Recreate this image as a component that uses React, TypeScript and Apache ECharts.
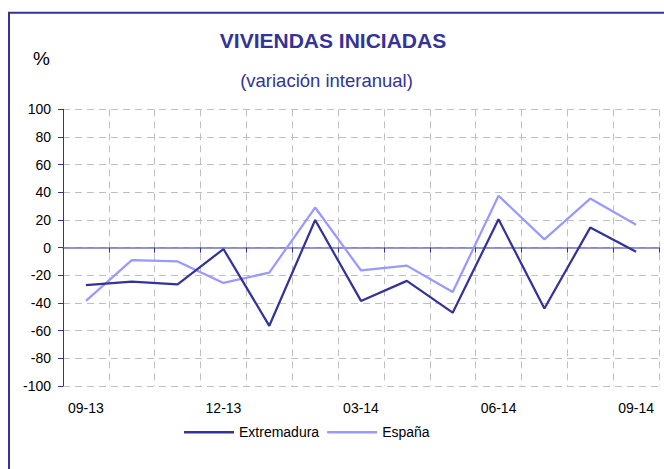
import React, { useEffect, useRef } from "react";
import * as echarts from "echarts";

const categories = [
  "09-13", "10-13", "11-13", "12-13", "01-14", "02-14", "03-14",
  "04-14", "05-14", "06-14", "07-14", "08-14", "09-14",
];
const extremadura = [-27, -24.5, -26.5, -1, -56.5, 20, -38.5, -24, -47, 20.5, -44, 14.5, -3];
const espana = [-38.5, -9, -10, -25.5, -18, 29, -16.5, -13, -32, 37.5, 6, 35.5, 16.5];
const seriesNames = ["Extremadura", "España"];
const titleText = "VIVIENDAS INICIADAS";
const subtitleText = "(variación interanual)";
const unitText = "%";

const FONT = "Liberation Sans, Arial, sans-serif";
const GRID_COLOR = "#c0c0c0";

export default function App() {
  const ref = useRef<HTMLDivElement>(null);
  useEffect(() => {
    if (!ref.current) return;
    const chart = echarts.init(ref.current, null, { renderer: "svg" });
    chart.setOption({
      animation: false,
      backgroundColor: "#ffffff",
      textStyle: { fontFamily: FONT },
      graphic: [
        {
          type: "rect",
          shape: { x: 9, y: 12.7, width: 720, height: 520 },
          style: { fill: "none", stroke: "#333399", lineWidth: 2 },
          silent: true,
        },
        {
          type: "text",
          x: 333,
          y: 40.5,
          style: {
            text: titleText,
            fontFamily: FONT,
            fontSize: 21,
            fontWeight: "bold",
            fill: "#333399",
            textAlign: "center",
            textVerticalAlign: "middle",
          },
        },
        {
          type: "text",
          x: 326.5,
          y: 80,
          style: {
            text: subtitleText,
            fontFamily: FONT,
            fontSize: 18.5,
            fill: "#333399",
            textAlign: "center",
            textVerticalAlign: "middle",
          },
        },
        {
          type: "text",
          x: 41.5,
          y: 58.5,
          style: {
            text: unitText,
            fontFamily: FONT,
            fontSize: 19,
            fill: "#000000",
            textAlign: "center",
            textVerticalAlign: "middle",
          },
        },
      ],
      grid: { left: 63, right: 5, top: 109.3, bottom: 83, containLabel: false },
      legend: {
        left: 184,
        top: 425.3,
        padding: 0,
        icon: "rect",
        itemWidth: 50,
        itemHeight: 2.5,
        itemGap: 8,
        textStyle: { fontFamily: FONT, fontSize: 14, color: "#000000" },
        data: seriesNames,
      },
      xAxis: [
        {
          type: "category",
          data: categories,
          boundaryGap: true,
          position: "bottom",
          axisLine: { show: false, onZero: false },
          axisTick: { show: false },
          axisLabel: {
            interval: 2,
            margin: 15,
            fontSize: 14,
            fontFamily: FONT,
            color: "#000000",
          },
          splitLine: {
            show: true,
            interval: 0,
            lineStyle: { color: GRID_COLOR, type: [7, 5], width: 1 },
          },
        },
        {
          type: "category",
          data: categories,
          boundaryGap: true,
          position: "bottom",
          axisLine: {
            show: true,
            onZero: true,
            lineStyle: { color: "#7373c9", width: 1.5 },
          },
          axisTick: {
            show: true,
            interval: 0,
            length: 5,
            lineStyle: { color: "#333399", width: 1 },
          },
          axisLabel: { show: false },
          splitLine: { show: false },
        },
      ],
      yAxis: {
        type: "value",
        min: -100,
        max: 100,
        interval: 20,
        axisLine: { show: true, lineStyle: { color: "#333399", width: 1 } },
        axisTick: { show: true, length: 5, lineStyle: { color: "#333399" } },
        axisLabel: {
          margin: 12,
          fontSize: 14,
          fontFamily: FONT,
          color: "#000000",
        },
        splitLine: {
          show: true,
          lineStyle: { color: GRID_COLOR, type: [7, 5], width: 1 },
        },
      },
      series: [
        {
          name: seriesNames[0],
          type: "line",
          xAxisIndex: 0,
          yAxisIndex: 0,
          data: extremadura,
          symbol: "none",
          lineStyle: { color: "#333399", width: 2.25 },
          itemStyle: { color: "#333399" },
          z: 3,
        },
        {
          name: seriesNames[1],
          type: "line",
          xAxisIndex: 0,
          yAxisIndex: 0,
          data: espana,
          symbol: "none",
          lineStyle: { color: "#9999ff", width: 2.25 },
          itemStyle: { color: "#9999ff" },
          z: 2,
        },
      ],
    });
    return () => chart.dispose();
  }, []);
  return (
    <div
      ref={ref}
      style={{ position: "absolute", left: 0, top: 0, width: 664, height: 469 }}
    />
  );
}
